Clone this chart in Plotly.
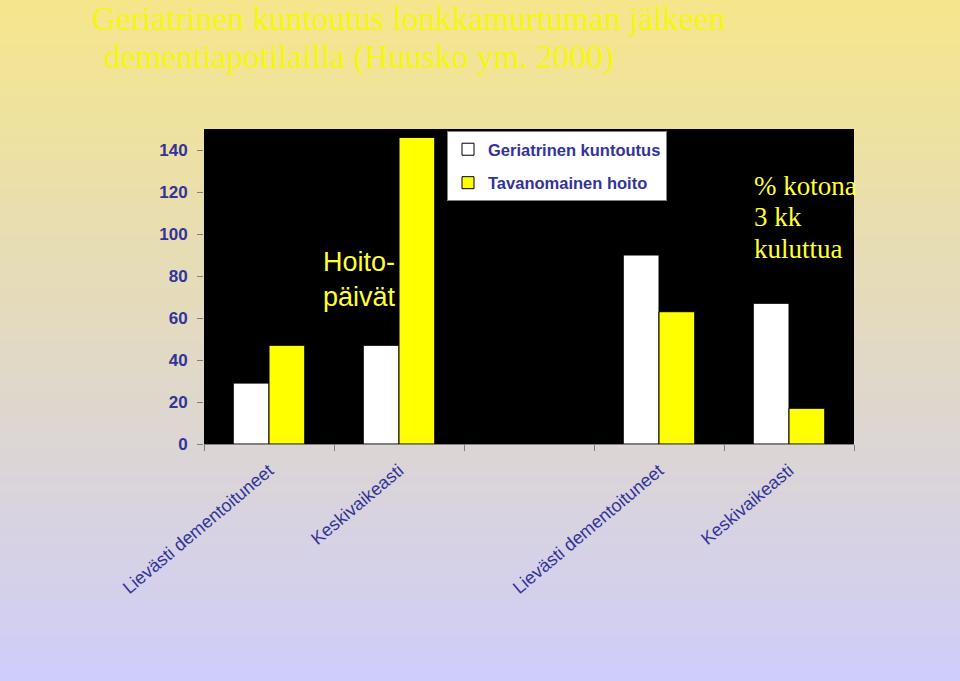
import plotly.graph_objects as go

# ---- data ----
categories = ["Lievästi dementoituneet", "Keskivaikeasti", "", "Lievästi dementoituneet", "Keskivaikeasti"]
geriatrinen = [29, 47, None, 90, 67]
tavanomainen = [47, 146, None, 63, 17]
series_names = ["Geriatrinen kuntoutus", "Tavanomainen hoito"]
y_ticks = [0, 20, 40, 60, 80, 100, 120, 140]

W, H = 960, 681
L, R, T, B = 204, 106, 129, 237
PW, PH = W - L - R, H - T - B

def px_to_paper_x(px):
    return (px - L) / PW

def px_to_paper_y(py):
    return (H - B - py) / PH

xs = list(range(len(categories)))

fig = go.Figure()
fig.add_trace(go.Bar(x=xs, y=geriatrinen, name=series_names[0], legendgroup="a",
                     marker=dict(color="#ffffff", line=dict(color="#000000", width=1))))
fig.add_trace(go.Bar(x=xs, y=tavanomainen, name=series_names[1], legendgroup="b",
                     marker=dict(color="#ffff00", line=dict(color="#000000", width=1))))

# gradient background bands
top = (245, 230, 140)
bot = (207, 205, 250)
n = 90
shapes = []
for i in range(n):
    t = i / (n - 1)
    c = tuple(round(top[k] + (bot[k] - top[k]) * t) for k in range(3))
    y0 = H * i / n
    y1 = H * (i + 1) / n + 1
    shapes.append(dict(type="rect", xref="paper", yref="paper",
                       x0=px_to_paper_x(0), x1=px_to_paper_x(W),
                       y0=px_to_paper_y(y1), y1=px_to_paper_y(y0),
                       fillcolor="rgb(%d,%d,%d)" % c, line=dict(width=0), layer="below"))
shapes.append(dict(type="rect", xref="paper", yref="paper", x0=0, x1=1, y0=0, y1=1,
                   fillcolor="#000000", line=dict(width=0), layer="below"))

title_color = "#f6f612"
annotations = [
    dict(text="Geriatrinen kuntoutus lonkkamurtuman jälkeen", xref="paper", yref="paper",
         x=px_to_paper_x(90), y=px_to_paper_y(19), xanchor="left", yanchor="middle",
         showarrow=False, font=dict(family="Liberation Serif", size=33.4, color=title_color)),
    dict(text="dementiapotilailla (Huusko ym. 2000)", xref="paper", yref="paper",
         x=px_to_paper_x(102), y=px_to_paper_y(57), xanchor="left", yanchor="middle",
         showarrow=False, font=dict(family="Liberation Serif", size=33.4, color=title_color)),
    dict(text="Hoito-<br>päivät", xref="paper", yref="paper", align="left",
         x=px_to_paper_x(321), y=px_to_paper_y(279), xanchor="left", yanchor="middle",
         showarrow=False, font=dict(family="Liberation Sans", size=27, color="#ffff33")),
]
for txt, py in [("% kotona", 186), ("3 kk", 217), ("kuluttua", 249)]:
    annotations.append(dict(text=txt, xref="paper", yref="paper",
                            x=px_to_paper_x(752), y=px_to_paper_y(py), xanchor="left", yanchor="middle",
                            showarrow=False,
                            font=dict(family="Liberation Serif", size=27, color="#ffff33")))

fig.update_layout(
    width=W, height=H,
    margin=dict(l=L, r=R, t=T, b=B, pad=0),
    paper_bgcolor="rgb(230,220,200)",
    plot_bgcolor="#000000",
    barmode="group", bargap=0.45, bargroupgap=0,
    shapes=shapes,
    annotations=annotations,
    showlegend=True,
    legend=dict(x=px_to_paper_x(447), y=px_to_paper_y(131), xanchor="left", yanchor="top",
                bgcolor="#ffffff", bordercolor="#808080", borderwidth=1,
                font=dict(family="Liberation Sans", size=16.5, color="#333399", weight="bold"),
                traceorder="grouped", tracegroupgap=9, itemwidth=30,
                entrywidth=230, entrywidthmode="pixels"),
    xaxis=dict(range=[-0.5, len(categories) - 0.5], tickmode="array", tickvals=xs, ticktext=categories,
               ticks="", tickangle=-40, showgrid=False, zeroline=False,
               showline=True, linecolor="#808080", linewidth=1, ticklabelstandoff=8,
               tickfont=dict(family="Liberation Sans", size=18, color="#333399"),
               minor=dict(tickmode="linear", tick0=-0.5, dtick=1, ticks="outside",
                          ticklen=6, tickcolor="#808080", tickwidth=1, showgrid=False)),
    yaxis=dict(range=[0, 150], tickvals=y_ticks, ticks="outside", ticklen=6, tickcolor="#808080",
               showgrid=False, zeroline=False, showline=False, ticklabelstandoff=6,
               tickfont=dict(family="Liberation Sans", size=17, color="#333399", weight="bold")),
)

fig.write_html("out.html", config={"displayModeBar": False},
               post_script="document.body.style.margin='0';")
